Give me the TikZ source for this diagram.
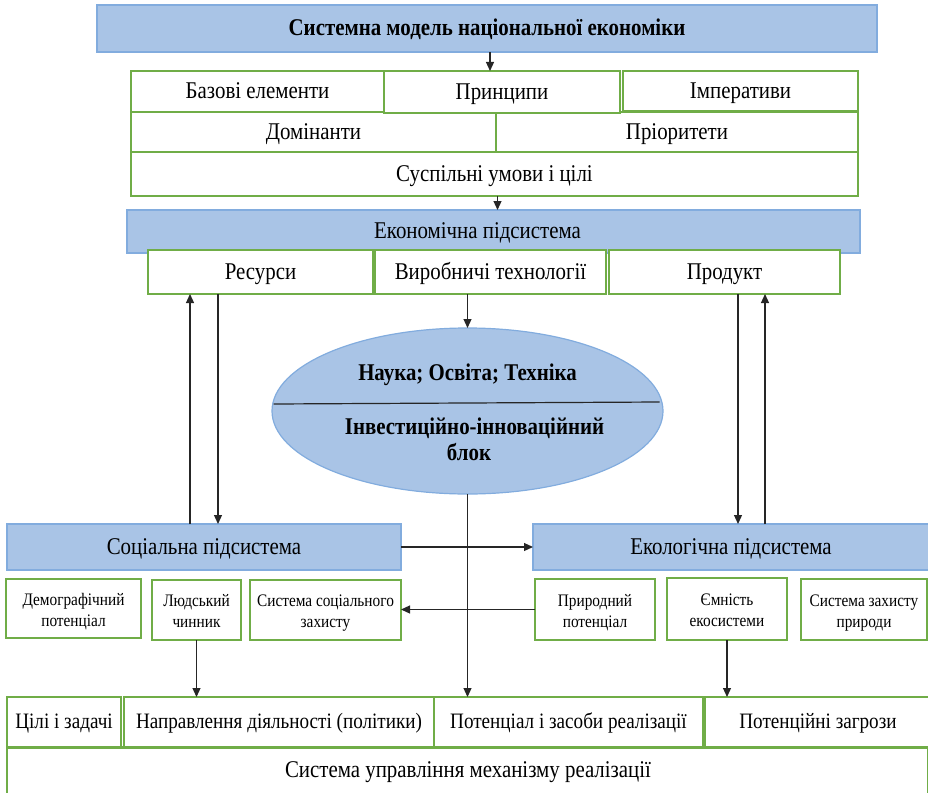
\documentclass[tikz,border=0pt]{standalone}
\usepackage{fontspec}
\setmainfont{Liberation Serif}[FakeStretch=0.87]
\usetikzlibrary{arrows.meta,shapes.geometric,calc}
\definecolor{bfill}{RGB}{169,196,230}
\definecolor{bline}{RGB}{130,172,222}
\definecolor{gline}{RGB}{112,173,71}
\begin{document}
\begin{tikzpicture}[x=1pt,y=-1pt,
  every node/.style={inner sep=0pt,outer sep=0pt},
  bigtxt/.style={font=\fontsize{24}{26}\selectfont,text height=19pt,text depth=5pt},
  midtxt/.style={font=\fontsize{22}{24}\selectfont,text height=17pt,text depth=5pt},
  smalltxt/.style={font=\fontsize{17.6}{21}\selectfont},
  bluebox/.style={draw=bline,fill=bfill,line width=1.2pt,rectangle,anchor=north west,bigtxt},
  greenbox/.style={draw=gline,fill=white,line width=1.6pt,rectangle,anchor=north west,bigtxt},
  lowbox/.style={greenbox,midtxt},
  smallbox/.style={draw=gline,fill=white,line width=1.6pt,rectangle,anchor=north west,smalltxt,align=center,text height=40pt,text depth=5pt},
  arr/.style={draw=black!85,line width=1.2pt,-{Triangle[length=9pt,width=8pt]}}
]
\useasboundingbox (0,0) rectangle (928,792);
% top
\node[bluebox,minimum width=780pt,minimum height=47pt] (top) at (97,5) {\bfseries Системна модель національної економіки};
\node[greenbox,minimum width=253pt,minimum height=41pt] (bazovi) at (131,71) {Базові елементи};
\node[greenbox,minimum width=365pt,minimum height=40pt] (domin) at (131,112) {Домінанти};
\node[greenbox,minimum width=362pt,minimum height=40pt] (prior) at (496,112) {Пріоритети};
\node[greenbox,minimum width=235pt,minimum height=40pt] (imper) at (623,71) {Імперативи};
\node[greenbox,minimum width=236pt,minimum height=42pt] (pryntsypy) at (384,71) {Принципи};
\node[greenbox,minimum width=727pt,minimum height=44pt] (suspil) at (131,152) {Суспільні умови і цілі};
% economic
\node[bluebox,minimum width=733pt,minimum height=43pt] (econ) at (127,210) {};
\node[bigtxt] (econtxt) at (477.5,231) {Економічна підсистема};
\node[greenbox,minimum width=225pt,minimum height=44pt] (resursy) at (148,250) {Ресурси};
\node[greenbox,minimum width=231pt,minimum height=44pt] (vyrob) at (375,250) {Виробничі технології};
\node[greenbox,minimum width=231pt,minimum height=44pt] (product) at (609,250) {Продукт};
% ellipse
\node[ellipse,draw=bline,fill=bfill,line width=1.2pt,minimum width=391pt,minimum height=166pt] (ell) at (467.5,411) {};
\draw[black!85,line width=1.2pt] ([shift={(-194,-7)}]ell.center) -- ([shift={(192,-9)}]ell.center);
\node[font=\fontsize{24}{26}\selectfont\bfseries] (nauka) at ([yshift=36pt]ell.center) {Наука; Освіта; Техніка};
\node[font=\fontsize{24}{26}\selectfont\bfseries] (invest) at ([shift={(7,17)}]ell.center) {Інвестиційно-інноваційний};
\node[font=\fontsize{24}{26}\selectfont\bfseries] (blok) at ([shift={(1.5,41)}]ell.center) {блок};
% subsystems
\node[bluebox,minimum width=394pt,minimum height=46pt] (soc) at (7,524) {Соціальна підсистема};
\node[bluebox,minimum width=400pt,minimum height=46pt] (eco) at (533,524) {};
\node[bigtxt] (ecotxt) at (731,547) {Екологічна підсистема};
% small boxes
\node[smallbox,minimum width=135pt,minimum height=59pt] (demo) at (6,579) {Демографічний\\потенціал};
\node[smallbox,minimum width=89pt,minimum height=60pt] (lyud) at (152,580) {Людський\\чинник};
\node[smallbox,minimum width=151pt,minimum height=60pt] (sszakh) at (250,580) {Система соціального\\захисту};
\node[smallbox,minimum width=120pt,minimum height=61pt] (pryrod) at (535,579) {Природний\\потенціал};
\node[smallbox,minimum width=120pt,minimum height=62pt] (yemn) at (667,578) {Ємність\\екосистеми};
\node[smallbox,minimum width=126pt,minimum height=61pt] (szpryr) at (801,579) {Система захисту\\природи};
% bottom
\node[greenbox,minimum width=921pt,minimum height=60pt] (sysup) at (7,747) {};
\node[bigtxt] (sysuptxt) at (468,770) {Система управління механізму реалізації};
\node[lowbox,minimum width=114pt,minimum height=50pt] (tsili) at (7,697) {Цілі і задачі};
\node[lowbox,minimum width=310pt,minimum height=50pt] (napr) at (124,697) {Направлення діяльності (політики)};
\node[lowbox,minimum width=269pt,minimum height=50pt] (potents) at (434,697) {Потенціал і засоби реалізації};
\node[lowbox,minimum width=226pt,minimum height=50pt] (zagr) at (705,697) {Потенційні загрози};
\draw[gline,line width=3pt] (sysup.north west) -- (sysup.north east);
% arrows
\draw[arr] ([xshift=3pt]top.south) -- ([xshift=3pt]top.south |- pryntsypy.north);
\draw[arr] ([xshift=3pt]suspil.south) -- ([xshift=3pt]suspil.south |- econ.north);
\draw[arr] (ell.north |- vyrob.south) -- (ell.north);
\draw[arr] ([xshift=42pt]resursy.south west |- soc.north) -- ([xshift=42pt]resursy.south west);
\draw[arr] ([xshift=70pt]resursy.south west) -- ([xshift=70pt]resursy.south west |- soc.north);
\draw[arr] ([xshift=129pt]product.south west) -- ([xshift=129pt]product.south west |- eco.north);
\draw[arr] ([xshift=156pt]product.south west |- eco.north) -- ([xshift=156pt]product.south west);
\draw[arr] (soc.east) -- (eco.west);
\draw[arr] (ell.south) -- (ell.south |- potents.north);
\draw[arr] (pryrod.west) -- (pryrod.west -| sszakh.east);
\draw[arr] (lyud.south) -- (lyud.south |- napr.north);
\draw[arr] (yemn.south) -- (yemn.south |- zagr.north);
\end{tikzpicture}
\end{document}
